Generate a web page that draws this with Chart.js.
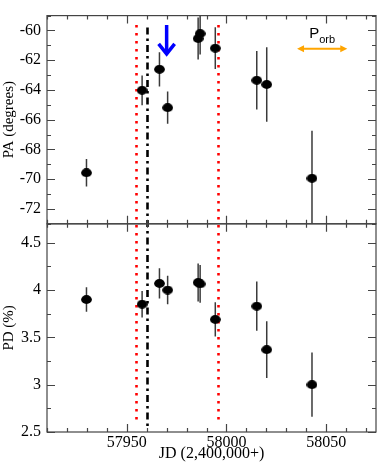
<!DOCTYPE html>
<html>
<head>
<meta charset="utf-8">
<script src="https://cdn.jsdelivr.net/npm/chart.js@4"></script>
<style>
  html, body { margin: 0; padding: 0; background: #fff; }
  #wrap { width: 382px; height: 463px; }
</style>
</head>
<body>
<div id="wrap"><canvas id="myChart" width="382" height="463"></canvas></div>
<script>
/*data*/
const jd    = [57929.8, 57957.7, 57966.4, 57970.5, 57985.8, 57986.8, 57994.4, 58015.2, 58020.2, 58042.9];
const pa    = [-69.57, -64.02, -62.61, -65.19, -60.54, -60.21, -61.19, -63.35, -63.63, -69.94];
const paErr = [0.93, 1.0, 1.15, 1.08, 1.41, 1.41, 1.4, 1.97, 2.5, 3.2];
const pd    = [3.90, 3.85, 4.07, 4.00, 4.08, 4.065, 3.69, 3.83, 3.37, 3.00];
const pdErr = [0.13, 0.14, 0.16, 0.15, 0.2, 0.2, 0.18, 0.26, 0.30, 0.34];

const xTicks  = [57950, 58000, 58050];
const paTicks = [-72, -70, -68, -66, -64, -62, -60];
const pdTicks = [2.5, 3, 3.5, 4, 4.5];

const redLines   = [57954.7, 57995.9];
const blackLines = [57960];
const arrowJD    = 57970;
const porbJD     = [58035.4, 58060.6];
const porbPA     = -61.23;

/*marker*/
const dot = document.createElement('canvas');
dot.width = 11; dot.height = 9;
const dctx = dot.getContext('2d');
dctx.fillStyle = '#000';
dctx.beginPath();
dctx.ellipse(5.5, 4.5, 5.4, 4.4, 0, 0, Math.PI * 2);
dctx.fill();

const serif = "'Liberation Serif', 'Times New Roman', serif";

const setTicks = (vals) => (scale) => { scale.ticks = vals.map(v => ({value: v})); };
const plain = (v) => String(v);

/*error bars, lines, ticks, annotations*/
const extras = {
  id: 'extras',
  beforeDatasetsDraw(chart) {
    const c = chart.ctx, x = chart.scales.x, yA = chart.scales.yPA, yD = chart.scales.yPD;

    // vertical markers
    c.save();
    c.lineCap = 'butt';
    c.strokeStyle = '#ff0000';
    c.lineWidth = 2.6;
    c.setLineDash([2.6, 5.4]);
    redLines.forEach(v => {
      const px = Math.round(x.getPixelForValue(v)) + 0.5;
      c.beginPath();
      c.moveTo(px, yA.getPixelForValue(-59.63));
      c.lineTo(px, yD.getPixelForValue(2.6));
      c.stroke();
    });
    c.strokeStyle = '#000';
    c.lineWidth = 2.6;
    c.setLineDash([7, 4, 2.5, 4]);
    blackLines.forEach(v => {
      const px = Math.round(x.getPixelForValue(v)) + 0.5;
      c.beginPath();
      c.moveTo(px, yA.getPixelForValue(-59.8));
      c.lineTo(px, yD.getPixelForValue(2.53));
      c.stroke();
    });
    c.restore();

    // error bars
    const bars = (ys, vals, errs) => {
      c.save();
      c.beginPath();
      c.rect(ys.left, ys.top, x.right - ys.left, ys.bottom - ys.top);
      c.clip();
      c.strokeStyle = '#3a3a3a';
      c.lineWidth = 1.5;
      jd.forEach((d, i) => {
        const px = x.getPixelForValue(d);
        c.beginPath();
        c.moveTo(px, ys.getPixelForValue(vals[i] + errs[i]));
        c.lineTo(px, ys.getPixelForValue(vals[i] - errs[i]));
        c.stroke();
      });
      c.restore();
    };
    bars(yA, pa, paErr);
    bars(yD, pd, pdErr);
  },
  afterDatasetsDraw(chart) {
    const c = chart.ctx, x = chart.scales.x, yA = chart.scales.yPA, yD = chart.scales.yPD;
    const L = chart.chartArea.left, R = chart.chartArea.right;

    // frames + inward ticks
    c.save();
    c.strokeStyle = '#444';
    c.lineWidth = 1.2;
    [yA, yD].forEach(ys => {
      const T = ys.top, B = ys.bottom;
      c.strokeRect(L, T, R - L, B - T);
      c.beginPath();
      for (let v = 57910; v <= 58075; v += 10) {
        const px = Math.round(x.getPixelForValue(v)) + 0.5;
        const len = v % 50 === 0 ? 8 : 4;
        c.moveTo(px, T); c.lineTo(px, T + len);
        c.moveTo(px, B); c.lineTo(px, B - len);
      }
      const isPA = ys === yA;
      const start = isPA ? -73 : 2.5, stop = isPA ? -59 : 4.7, step = isPA ? 1 : 0.25;
      for (let v = start; v <= stop + 1e-9; v += step) {
        const py = Math.round(ys.getPixelForValue(v)) + 0.5;
        const major = isPA ? Math.abs(v) % 2 === 0 : Math.abs(v * 2 - Math.round(v * 2)) < 1e-6;
        const len = major ? 8 : 4;
        c.moveTo(L, py); c.lineTo(L + len, py);
        c.moveTo(R, py); c.lineTo(R - len, py);
      }
      c.stroke();
    });
    c.restore();

    // blue arrow
    c.save();
    const ax = x.getPixelForValue(arrowJD);
    const aTop = yA.getPixelForValue(-59.63), aTip = yA.getPixelForValue(-61.64);
    c.strokeStyle = '#0000ff';
    c.lineWidth = 3.5;
    c.lineCap = 'butt';
    c.lineJoin = 'miter';
    c.beginPath();
    c.moveTo(ax, aTop); c.lineTo(ax, aTip - 1);
    c.stroke();
    c.beginPath();
    c.moveTo(ax - 8, aTip - 11); c.lineTo(ax, aTip - 1); c.lineTo(ax + 8, aTip - 11);
    c.stroke();
    c.restore();

    // P_orb double arrow
    c.save();
    const p1 = x.getPixelForValue(porbJD[0]), p2 = x.getPixelForValue(porbJD[1]);
    const py = yA.getPixelForValue(porbPA);
    c.strokeStyle = '#ffa500';
    c.fillStyle = '#ffa500';
    c.lineWidth = 2;
    c.beginPath();
    c.moveTo(p1 + 4, py); c.lineTo(p2 - 4, py);
    c.stroke();
    c.beginPath();
    c.moveTo(p1, py); c.lineTo(p1 + 7, py - 3.5); c.lineTo(p1 + 7, py + 3.5); c.closePath();
    c.moveTo(p2, py); c.lineTo(p2 - 7, py - 3.5); c.lineTo(p2 - 7, py + 3.5); c.closePath();
    c.fill();
    c.fillStyle = '#000';
    c.textBaseline = 'alphabetic';
    c.font = "15px 'Liberation Sans', Arial, sans-serif";
    const mid = (p1 + p2) / 2;
    const wP = c.measureText('P').width;
    c.font = "11px 'Liberation Sans', Arial, sans-serif";
    const wO = c.measureText('orb').width;
    const sx = mid - (wP + wO) / 2;
    c.font = "15px 'Liberation Sans', Arial, sans-serif";
    c.fillText('P', sx, py - 11);
    c.font = "11px 'Liberation Sans', Arial, sans-serif";
    c.fillText('orb', sx + wP, py - 6);
    c.restore();
  }
};

/*chart*/
const ctx = document.getElementById('myChart').getContext('2d');
const myChart = new Chart(ctx, {
  type: 'scatter',
  data: {
    datasets: [{
      label: 'PA',
      data: jd.map((d, i) => ({x: d, y: pa[i]})),
      yAxisID: 'yPA',
      pointStyle: dot,
      pointRadius: 5
    }, {
      label: 'PD',
      data: jd.map((d, i) => ({x: d, y: pd[i]})),
      yAxisID: 'yPD',
      pointStyle: dot,
      pointRadius: 5
    }]
  },
  options: {
    responsive: false,
    animation: false,
    layout: { padding: { top: 1, right: 2, left: 0, bottom: 0 } },
    plugins: { legend: { display: false }, tooltip: { enabled: false } },
    scales: {
      x: {
        type: 'linear',
        min: 57910,
        max: 58075,
        afterBuildTicks: setTicks(xTicks),
        afterFit: (s) => { s.height = 31; },
        grid: { display: false, drawTicks: false },
        border: { display: false },
        ticks: { color: '#000', padding: 1, autoSkip: false, maxRotation: 0, callback: plain,
                 font: { family: serif, size: 16 } },
        title: { display: true, text: 'JD (2,400,000+)', color: '#000', padding: { top: 0, bottom: 0 },
                 font: { family: serif, size: 16 } }
      },
      yPD: {
        type: 'linear',
        position: 'left',
        stack: 'panels',
        stackWeight: 1,
        min: 2.5,
        max: 4.7,
        afterBuildTicks: setTicks(pdTicks),
        afterFit: (s) => { s.width = 47; },
        grid: { display: false, drawTicks: false },
        border: { display: false },
        ticks: { color: '#000', padding: 6, autoSkip: false, callback: plain,
                 font: { family: serif, size: 16 } },
        title: { display: true, text: 'PD (%)', color: '#000', padding: 0, font: { family: serif, size: 15 } }
      },
      yPA: {
        type: 'linear',
        position: 'left',
        stack: 'panels',
        stackWeight: 1,
        min: -73,
        max: -59,
        afterBuildTicks: setTicks(paTicks),
        afterFit: (s) => { s.width = 47; },
        grid: { display: false, drawTicks: false },
        border: { display: false },
        ticks: { color: '#000', padding: 6, autoSkip: false, callback: plain,
                 font: { family: serif, size: 16 } },
        title: { display: true, text: 'PA (degrees)', color: '#000', padding: 0, font: { family: serif, size: 15 } }
      }
    }
  },
  plugins: [extras]
});
</script>
</body>
</html>
